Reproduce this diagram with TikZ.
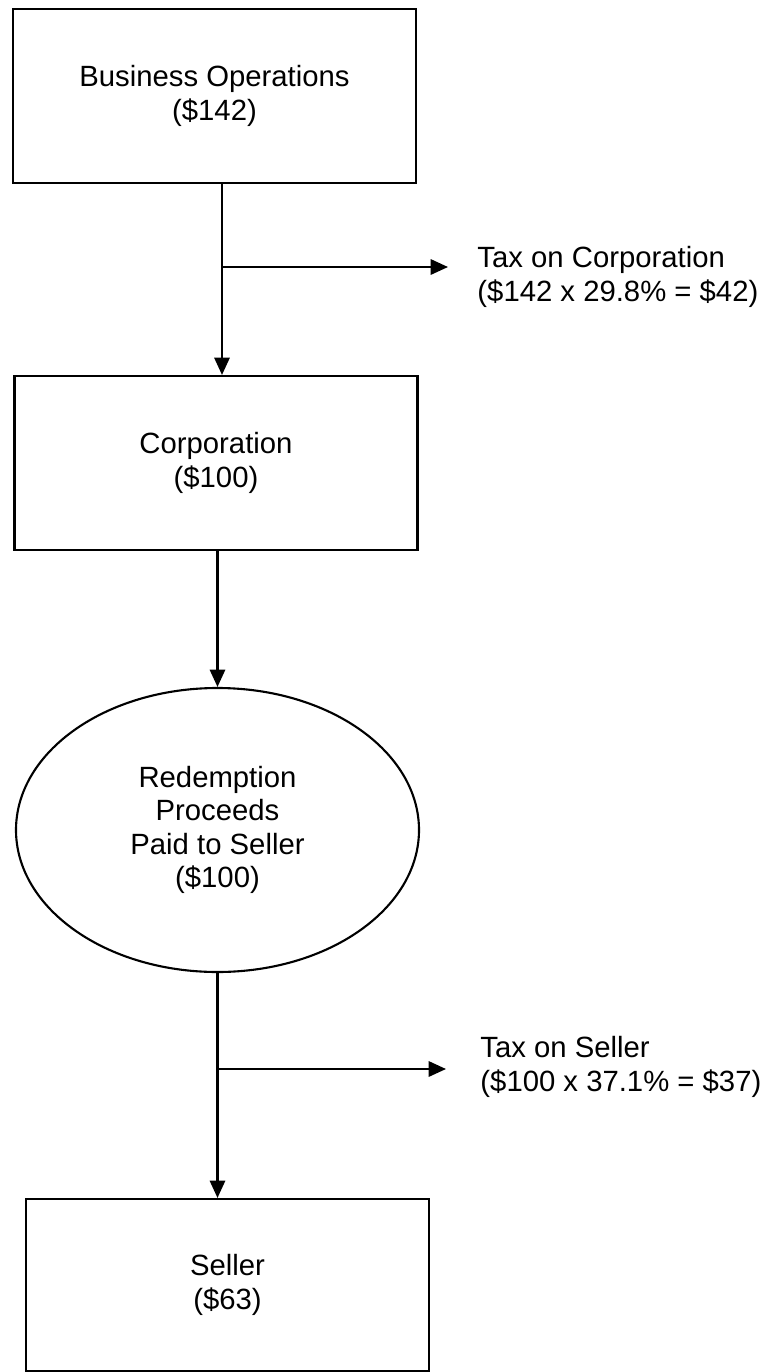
\documentclass[tikz,border=0pt]{standalone}
\usepackage{fontspec}
\setmainfont{Liberation Sans}
\usepackage{tikz}
\usetikzlibrary{arrows.meta,positioning,shapes.geometric,calc}

\begin{document}
\begin{tikzpicture}[
    every node/.style={font=\fontsize{12.5}{14.3}\selectfont, align=center},
    box/.style={draw, line width=0.9pt, rectangle, minimum width=6.045cm, minimum height=2.61cm},
    flow/.style={line width=0.9pt, -{Triangle[length=0.26cm,width=0.23cm]}},
    taxnote/.style={anchor=west, align=left, inner sep=0pt}
  ]
  \useasboundingbox (0,0) rectangle (11.46,-20.58);

  % the four stages
  \node[box] (ops) at (3.2175,-1.44) {Business Operations\\(\$142)};
  \node[box] (corp) at (3.24,-6.945) {Corporation\\(\$100)};
  \node[draw, line width=0.9pt, ellipse, minimum width=6.045cm, minimum height=4.26cm]
    (redeem) at (3.2625,-12.45) {Redemption\\Proceeds\\Paid to Seller\\(\$100)};
  \node[box, minimum height=2.58cm] (seller) at (3.4125,-19.275) {Seller\\(\$63)};

  % the taxes
  \node[taxnote] (taxcorp) at (7.155,-4.155) {Tax on Corporation\\(\$142 x 29.8\% = \$42)};
  \node[taxnote] (taxseller) at (7.2,-16.005) {Tax on Seller\\(\$100 x 37.1\% = \$37)};

  % branch points and arrow ends
  \coordinate (j1) at (3.33,-4.005);
  \coordinate (tip1) at (6.72,-4.005);
  \coordinate (j2) at (3.2625,-16.035);
  \coordinate (tip2) at (6.69,-16.035);

  % the flow
  \draw[flow] (ops.south -| j1) -- (corp.north -| j1);
  \draw[flow] (j1) -- (tip1);
  \draw[flow] (corp.south -| redeem.north) -- (redeem.north);
  \draw[flow] (redeem.south) -- (redeem.south |- seller.north);
  \draw[flow] (j2) -- (tip2);
\end{tikzpicture}
\end{document}
